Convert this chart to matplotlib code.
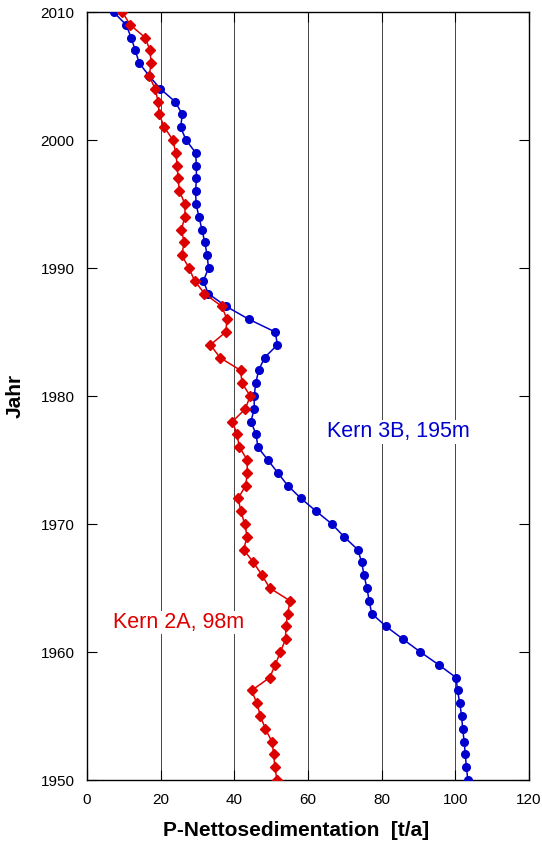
import matplotlib
matplotlib.use("Agg")
import matplotlib.pyplot as plt
import numpy as np

plt.rcParams['font.family'] = ['Liberation Sans', 'DejaVu Sans']

years = list(range(2010, 1949, -1))

kern_3b = [7.2, 10.6, 12.0, 13.1, 14.2, 16.9, 19.9, 23.9, 25.9, 25.4,
           26.9, 29.5, 29.7, 29.7, 29.5, 29.6, 30.4, 31.2, 32.0, 32.6,
           33.0, 31.6, 32.9, 37.8, 43.9, 51.1, 51.7, 48.2, 46.6, 45.8,
           45.4, 45.4, 44.5, 45.9, 46.4, 49.1, 51.8, 54.5, 58.1, 62.2,
           66.5, 69.8, 73.5, 74.6, 75.2, 76.0, 76.6, 77.3, 81.2, 85.8,
           90.5, 95.5, 100.2, 100.6, 101.2, 101.7, 102.0, 102.4, 102.7, 103.0,
           103.4]

kern_2a = [9.6, 11.7, 15.8, 17.1, 17.4, 16.9, 18.5, 19.3, 19.6, 21.0,
           23.3, 24.1, 24.5, 24.7, 25.1, 26.6, 26.6, 25.6, 26.4, 25.7,
           27.7, 29.2, 31.9, 36.6, 38.0, 37.7, 33.5, 36.1, 41.7, 42.1,
           44.3, 43.0, 39.5, 40.7, 41.4, 43.5, 43.5, 43.1, 41.0, 41.8,
           42.8, 43.5, 42.5, 45.2, 47.5, 49.6, 55.1, 54.5, 54.0, 53.9,
           52.5, 51.1, 49.6, 44.7, 46.1, 47.1, 48.4, 50.2, 50.7, 51.0,
           51.6]

x_ticks = [0, 20, 40, 60, 80, 100, 120]
y_ticks = [1950, 1960, 1970, 1980, 1990, 2000, 2010]

blue = '#0000CC'
red = '#DD0000'

fig = plt.figure(figsize=(5.42, 8.5), dpi=100)
ax = fig.add_axes([87/542, 1 - 780/850, (529-87)/542, (780-12)/850])

for g in [20, 40, 60, 80, 100]:
    ax.axvline(g, color='#444444', lw=0.7, zorder=0)

ax.plot(kern_3b, years, color=blue, lw=1.1, marker='o', ms=5.5, mec=blue, mfc=blue, zorder=3)
ax.plot(kern_2a, years, color=red, lw=1.1, marker='D', ms=5.5, mec=red, mfc=red, zorder=4)

ax.set_xlim(0, 120)
ax.set_ylim(1950, 2010)
ax.set_xticks(x_ticks)
ax.set_yticks(y_ticks)
ax.tick_params(direction='in', length=7, width=0.8, labelsize=11, top=True, right=True, pad=9)
for s in ax.spines.values():
    s.set_linewidth(1.0)

ax.set_xlabel('P-Nettosedimentation  [t/a]', fontsize=15, fontweight='bold')
ax.xaxis.set_label_coords((296 - 87) / (529 - 87), -(821 - 780) / (780 - 12))
ax.set_ylabel('Jahr', fontsize=15, fontweight='bold')
ax.yaxis.set_label_coords(-(87 - 25) / (529 - 87), 0.5)

ax.text(65.2, 1977.2, 'Kern 3B, 195m', color=blue, fontsize=15.5, ha='left', va='center',
        bbox=dict(facecolor='white', edgecolor='none', pad=1), zorder=2)
ax.text(7.1, 1962.3, 'Kern 2A, 98m', color=red, fontsize=15.5, ha='left', va='center',
        bbox=dict(facecolor='white', edgecolor='none', pad=1), zorder=2)

fig.savefig('out.png', dpi=100)
